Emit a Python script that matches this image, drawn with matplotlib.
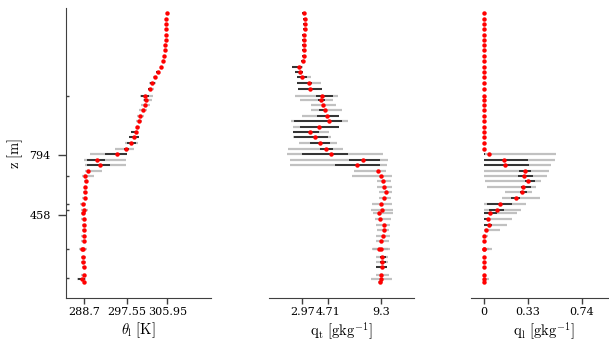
import matplotlib
matplotlib.use("Agg")
import matplotlib.pyplot as plt

plt.rcParams['font.family'] = 'DejaVu Serif'
plt.rcParams['mathtext.fontset'] = 'cm'

nan = float('nan')

# heights [m]
z = [1587, 1557, 1528, 1498, 1468, 1438, 1410, 1380, 1348, 1319,
     1289, 1259, 1229, 1197, 1165, 1126, 1104, 1074, 1048, 1012,
     983, 953, 923, 893, 861, 829, 798, 766, 738, 706,
     678, 648, 616, 587, 555, 520, 486, 469, 437, 404,
     374, 342, 311, 270, 266, 221, 193, 165, 124, 101, 81]

# liquid water potential temperature [K]
theta_l = [305.86, 305.79, 305.72, 305.72, 305.72, 305.65, 305.58, 305.45, 305.24, 305.10,
           304.68, 304.06, 303.51, 302.89, 302.47, 301.43, 301.57, 301.30, 300.88, 300.33,
           300.05, 299.77, 299.50, 299.01, 298.53, 297.49, 295.55, 291.40, 291.96, 289.61,
           288.98, 289.12, 288.98, 288.98, 288.85, 288.57, 288.71, 288.57, 288.64, 288.71,
           288.71, 288.64, 288.64, 288.50, 288.36, 288.57, 288.57, 288.78, 288.71, 288.22, 288.78]
theta_gray_lo = [nan] * 11 + [
    303.65, 303.03, 302.19, 301.92, 300.33, 300.88, 300.47, 300.12, 299.77,
    299.50, 299.50, 298.53, 298.04, 297.15, 295.14, 289.95, 288.78, 288.98, 288.91,
    288.36, 288.64, 288.64, 288.50, 288.36, 287.81, 288.08, 288.08, 288.15, 288.29,
    288.22, 288.15, 288.15, 287.67, 287.90, 288.08, 288.08, 288.40, 288.08, 287.25, 288.50]
theta_gray_hi = [nan] * 11 + [
    304.27, 303.92, 303.72, 303.16, 303.03, 302.82, 302.33, 301.78, 301.23,
    300.74, 300.26, 299.98, 300.12, 299.91, 299.01, 297.70, 297.49, 297.49, 292.51,
    290.85, 289.61, 289.33, 289.26, 289.19, 289.19, 289.47, 289.19, 289.19, 289.05,
    289.05, 289.12, 289.19, 289.33, 289.00, 289.19, 289.19, 289.20, 289.05, 289.05, 289.05]
theta_blk_lo = [nan] * 11 + [
    303.65, 303.24, 302.40, 302.06, 300.60, 301.09, nan, nan, nan,
    nan, nan, 298.53, 298.04, 297.70, 296.94, 293.00, 289.40, 289.33, nan,
    nan, nan, nan, nan, nan, nan, nan, nan, nan, nan,
    nan, nan, nan, nan, nan, nan, nan, 288.64, nan, 287.50, nan]
theta_blk_hi = [nan] * 11 + [
    304.27, 303.79, 303.37, 302.89, 302.19, 302.06, nan, nan, nan,
    nan, nan, 299.98, 300.12, 299.43, 298.04, 297.70, 293.13, 294.03, nan,
    nan, nan, nan, nan, nan, nan, nan, nan, nan, nan,
    nan, nan, nan, nan, nan, nan, nan, 289.19, nan, 288.90, nan]

# total water mixing ratio [g/kg]
q_t = [3.13, 3.16, 3.16, 3.19, 3.13, 3.11, 3.11, 3.08, 3.08, 3.00,
       2.73, 2.78, 2.97, 3.54, 3.59, 4.59, 4.50, 4.67, 4.78, 4.99,
       5.12, 4.32, 3.59, 3.99, 4.42, 4.85, 5.28, 7.89, 7.41, 9.11,
       9.30, 9.51, 9.59, 9.70, 9.59, 9.30, 9.40, 9.19, 9.27, 9.59,
       9.56, 9.51, 9.32, 9.19, 9.30, 9.43, 9.43, 9.40, 9.32, 9.32, 9.27]
qt_gray_lo = [nan] * 10 + [
    2.17, 2.38, 2.52, 2.52, 2.62, 2.38, 2.78, 3.65, 3.70, 2.97,
    2.06, 2.19, 2.25, 2.25, 2.73, 1.84, 1.76, 1.98, 1.98, 7.14,
    7.01, 8.97, 8.97, 9.16, 9.19, 8.62, 8.51, 8.70, 8.86, 8.92,
    8.97, 8.89, 8.89, 8.59, 8.70, 8.92, 8.92, 8.92, 8.92, 8.51, 9.11]
qt_gray_hi = [nan] * 10 + [
    3.05, 3.05, 3.65, 4.45, 4.53, 5.82, 5.42, 5.66, 6.15, 5.93,
    6.63, 5.93, 5.10, 5.29, 5.74, 6.28, 9.51, 9.91, 9.78, 9.73,
    10.18, 10.10, 10.18, 10.18, 10.10, 10.18, 10.26, 10.31, 10.13, 10.05,
    9.99, 10.05, 9.99, 10.05, 9.91, 9.91, 9.91, 9.78, 9.99, 10.23, 9.51]
qt_blk_lo = [2.98, 3.01, 3.01, 3.04, 2.98, 2.96, 2.96, 2.93, 2.93, 2.85,
             2.17, 2.38, 2.52, 2.52, 2.62, 4.08, 4.26, nan, 4.32, 4.13,
             2.30, 2.78, 2.25, 2.30, 3.59, 4.40, 2.92, 6.74, 5.61, nan,
             nan, nan, nan, nan, nan, nan, nan, nan, nan, nan,
             nan, nan, nan, nan, nan, 9.20, 9.20, 8.92, nan, nan, nan]
qt_blk_hi = [3.28, 3.31, 3.31, 3.34, 3.28, 3.26, 3.26, 3.23, 3.23, 3.15,
             2.92, 3.05, 3.32, 3.73, 4.53, 5.47, 4.80, nan, 4.94, 5.93,
             6.15, 5.93, 4.34, 5.07, 5.21, 5.47, 6.69, 9.24, 9.24, nan,
             nan, nan, nan, nan, nan, nan, nan, nan, nan, nan,
             nan, nan, nan, nan, nan, 9.70, 9.70, 9.78, nan, nan, nan]

# liquid water mixing ratio [g/kg]
q_l = [0.0] * 26 + [
    0.040, 0.153, 0.159, 0.312, 0.300, 0.335, 0.297, 0.289, 0.242, 0.121,
    0.101, 0.048, 0.030, 0.038, 0.013, 0.003, 0.0, 0.0, 0.0, 0.0,
    0.0, 0.0, 0.0, 0.0, 0.0]
ql_gray_lo = [nan] * 26 + [
    0.0, 0.0, 0.0, 0.0, 0.0, 0.005, 0.02, 0.158, 0.138, 0.0,
    0.0, 0.0, 0.0, 0.0, 0.0, 0.0, nan, 0.0, 0.0, nan,
    nan, nan, nan, 0.0, nan]
ql_gray_hi = [nan] * 26 + [
    0.541, 0.54, 0.503, 0.488, 0.473, 0.428, 0.393, 0.365, 0.42, 0.315,
    0.277, 0.252, 0.214, 0.176, 0.121, 0.03, nan, 0.058, 0.04, nan,
    nan, nan, nan, 0.035, nan]
ql_blk_lo = [nan] * 26 + [
    0.0, 0.0, 0.0, 0.264, 0.254, 0.31, 0.279, 0.272, 0.201, 0.02,
    0.038, 0.0, 0.0, 0.0, nan, nan, nan, nan, nan, nan,
    nan, nan, nan, nan, nan]
ql_blk_hi = [nan] * 26 + [
    0.01, 0.33, 0.34, 0.355, 0.372, 0.385, 0.352, 0.322, 0.272, 0.209,
    0.151, 0.096, 0.045, 0.058, nan, nan, nan, nan, nan, nan,
    nan, nan, nan, nan, nan]

z_major = [458, 794]
z_minor = [1126, 678, 520, 486, 268, 103]

fig = plt.figure(figsize=(6.09, 3.41), dpi=100)
bottom = 1 - 298 / 341
height = 290 / 341
width = 145 / 609
ax1 = fig.add_axes([66 / 609, bottom, width, height])
ax2 = fig.add_axes([269 / 609, bottom, width, height], sharey=ax1)
ax3 = fig.add_axes([471 / 609, bottom, width, height], sharey=ax1)

panels = [
    (ax1, theta_l, theta_gray_lo, theta_gray_hi, theta_blk_lo, theta_blk_hi,
     (285.0, 315.0), [288.7, 297.55, 305.95], ['288.7', '297.55', '305.95'],
     r'$\theta_\mathrm{l}\ [\mathrm{K}]$'),
    (ax2, q_t, qt_gray_lo, qt_gray_hi, qt_blk_lo, qt_blk_hi,
     (0.283, 11.98), [2.97, 5.04, 9.3], ['2.97', '4.71', '9.3'],
     r'$\mathrm{q_t\ [gkg^{-1}]}$'),
    (ax3, q_l, ql_gray_lo, ql_gray_hi, ql_blk_lo, ql_blk_hi,
     (-0.098, 0.997), [0, 0.33, 0.74], ['0', '0.33', '0.74'],
     r'$\mathrm{q_l\ [gkg^{-1}]}$'),
]

for ax, x, glo, ghi, blo, bhi, xlim, ticks, labels, xlabel in panels:
    ax.hlines(z, glo, ghi, color='0.68', alpha=0.75, lw=1.6, zorder=2)
    ax.hlines(z, blo, bhi, color='k', alpha=0.8, lw=1.3, zorder=3)
    ax.plot(x, z, 'o', color='red', ms=3.2, mec='none', zorder=4)
    ax.set_xlim(*xlim)
    ax.set_xticks(ticks)
    ax.set_xticklabels(labels)
    ax.set_xlabel(xlabel, fontsize=10.5, labelpad=0)
    ax.xaxis.set_label_coords(0.5, -0.077)
    ax.tick_params(axis='x', direction='out', length=4, width=1, pad=2.5,
                   labelsize=8, color='0.25')
    for s in ['top', 'right']:
        ax.spines[s].set_visible(False)
    ax.spines['bottom'].set_color('0.25')
    ax.spines['left'].set_color('0.25')

for ax in [ax2, ax3]:
    ax.spines['left'].set_visible(False)
    ax.tick_params(axis='y', which='both', left=False, labelleft=False)

ax1.set_ylim(-7, 1617)
ax1.set_yticks(z_major)
ax1.set_yticklabels(['458', '794'])
ax1.set_yticks(z_minor, minor=True)
ax1.tick_params(axis='y', which='major', direction='out', length=6, width=1,
                labelsize=8, pad=5, color='0.25')
ax1.tick_params(axis='y', which='minor', direction='in', length=2.5, width=1,
                color='0.25')
ax1.set_ylabel(r'$\mathrm{z\ [m]}$', fontsize=10.5)
ax1.yaxis.set_label_coords(-0.283, 0.5)

fig.savefig('out.png', dpi=100)
